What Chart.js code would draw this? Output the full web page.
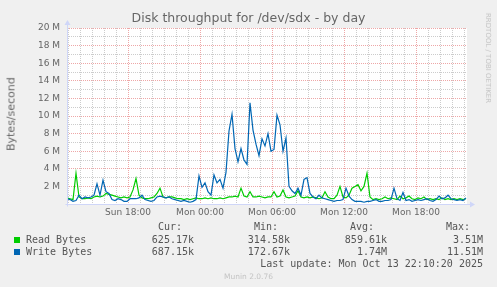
<!DOCTYPE html>
<html>
<head>
<meta charset="utf-8">
<script src="https://cdn.jsdelivr.net/npm/chart.js@4/dist/chart.umd.min.js"></script>
<style>
  html, body { margin: 0; padding: 0; background: #f0f0f0; }
  #wrap { position: relative; width: 497px; height: 287px; overflow: hidden; font-family: "DejaVu Sans", sans-serif; color: #666; }
  #chart { position: absolute; left: 0; top: 0; }
  .t { position: absolute; white-space: pre; }
  .mono { font-family: "DejaVu Sans Mono", monospace; font-size: 10px; line-height: 12px; color: #555; }
  .r { text-align: right; }
  .sq { position: absolute; width: 6px; height: 6px; }
</style>
</head>
<body>
<div id="wrap">
  <canvas id="chart" width="497" height="287"></canvas>

  <div class="t" style="left:0; width:497px; top:11px; text-align:center; font-size:12.5px; line-height:14px; padding-right:0; text-indent:0;"><span style="position:relative; left:0;">Disk throughput for /dev/sdx - by day</span></div>
  <div class="t" style="left:11px; top:114px; font-size:11px; transform:translate(-50%,-50%) rotate(-90deg);">Bytes/second</div>
  <div class="t" style="left:488px; top:58px; font-size:7px; color:#c4c4c4; transform:translate(-50%,-50%) rotate(90deg);">RRDTOOL / TOBI OETIKER</div>

  <!-- legend -->
  <div class="t mono r" style="right:315px; top:221px;">Cur:</div>
  <div class="t mono r" style="right:219px; top:221px;">Min:</div>
  <div class="t mono r" style="right:123px; top:221px;">Avg:</div>
  <div class="t mono r" style="right:27px; top:221px;">Max:</div>

  <div class="sq" style="left:14px; top:237px; background:#00cc00;"></div>
  <div class="t mono" style="left:26px; top:234px;">Read Bytes</div>
  <div class="t mono r" style="right:303px; top:234px;">625.17k</div>
  <div class="t mono r" style="right:207px; top:234px;">314.58k</div>
  <div class="t mono r" style="right:110px; top:234px;">859.61k</div>
  <div class="t mono r" style="right:14px; top:234px;">3.51M</div>

  <div class="sq" style="left:14px; top:249px; background:#0066b3;"></div>
  <div class="t mono" style="left:26px; top:246px;">Write Bytes</div>
  <div class="t mono r" style="right:303px; top:246px;">687.15k</div>
  <div class="t mono r" style="right:207px; top:246px;">172.67k</div>
  <div class="t mono r" style="right:110px; top:246px;">1.74M</div>
  <div class="t mono r" style="right:14px; top:246px;">11.51M</div>

  <div class="t mono r" style="right:14px; top:258px;">Last update: Mon Oct 13 22:10:20 2025</div>
  <div class="t" style="left:0; width:497px; top:272px; text-align:center; font-size:7.5px; line-height:9px; color:#c4c4c4;">Munin 2.0.76</div>
</div>

<script>
// === データ (単位: MB/s, 15分ごと, Sun 12:55 から) ===
const START_HOUR = 12 + 55 / 60;          // Sun 12:55 (hours since Sun 00:00)
const END_HOUR = START_HOUR + 400 / 12;   // 33h20m window
const STEP_HOURS = 0.25;

const readBytes = [
    0.7, 0.6, 0.5, 3.5, 0.8, 0.6, 0.6, 0.7, 0.6, 0.8,
    0.9, 0.8, 0.9, 1.2, 1.1, 1.0, 0.9, 0.8, 0.7, 0.8,
    0.7, 0.8, 1.6, 2.9, 1.0, 0.7, 0.6, 0.6, 0.7, 0.8,
    1.2, 1.8, 0.8, 0.7, 0.8, 0.8, 0.7, 0.6, 0.6, 0.5,
    0.6, 0.5, 0.6, 0.7, 0.6, 0.6, 0.7, 0.6, 0.7, 0.6,
    0.6, 0.7, 0.6, 0.7, 0.8, 0.8, 0.9, 0.8, 1.8, 0.9,
    0.8, 1.4, 0.8, 0.8, 0.9, 0.8, 0.7, 0.8, 0.8, 1.4,
    0.8, 0.9, 1.6, 0.8, 0.7, 0.8, 0.9, 1.5, 0.8, 0.7,
    0.8, 0.7, 0.8, 0.7, 0.6, 0.7, 1.4, 0.8, 0.6, 0.6,
    1.0, 2.0, 0.8, 0.7, 1.0, 1.8, 2.0, 2.2, 1.5, 2.0,
    3.5, 0.8, 0.5, 0.6, 0.5, 0.6, 0.8, 0.6, 0.7, 0.6,
    0.5, 0.9, 0.6, 0.7, 0.9, 0.6, 0.5, 0.7, 0.6, 0.8,
    0.5, 0.6, 0.5, 0.6, 0.5, 0.7, 0.5, 0.6, 0.5, 0.6,
    0.5, 0.6, 0.5, 0.6
];

const writeBytes = [
    0.6, 0.5, 0.3, 0.4, 1.0, 0.6, 0.8, 0.7, 0.8, 1.0,
    2.3, 1.0, 2.7, 1.4, 1.2, 0.5, 0.4, 0.6, 0.5, 0.3,
    0.3, 0.6, 0.6, 0.6, 0.7, 1.0, 0.5, 0.4, 0.3, 0.4,
    0.8, 0.9, 0.8, 0.7, 0.8, 0.6, 0.5, 0.4, 0.3, 0.4,
    0.3, 0.2, 0.3, 0.5, 3.2, 1.9, 2.4, 1.4, 1.0, 3.3,
    2.4, 2.8, 1.8, 3.6, 8.3, 10.2, 6.3, 4.8, 6.3, 5.0,
    4.5, 11.5, 8.4, 6.8, 5.5, 7.4, 6.6, 8.0, 6.0, 6.2,
    10.1, 9.0, 6.0, 7.5, 2.0, 1.5, 1.2, 1.8, 1.0, 2.8,
    3.0, 1.2, 0.8, 0.6, 1.0, 0.7, 0.6, 0.5, 0.4, 0.3,
    0.4, 0.4, 0.5, 1.8, 0.9, 0.5, 0.3, 0.3, 0.3, 0.2,
    0.3, 0.3, 0.4, 0.5, 0.3, 0.3, 0.4, 0.4, 0.5, 1.8,
    0.6, 0.4, 1.3, 0.4, 0.5, 0.3, 0.4, 0.5, 0.4, 0.5,
    0.6, 0.4, 0.3, 0.5, 0.9, 0.6, 0.7, 1.0, 0.6, 0.5,
    0.4, 0.5, 0.4, 0.7
];

// 目盛りラベル
const xTickHours = [18, 24, 30, 36, 42];
const xTickLabels = ['Sun 18:00', 'Mon 00:00', 'Mon 06:00', 'Mon 12:00', 'Mon 18:00'];

// === 色 ===
const AXIS_COLOR = '#cfd6f8';
const MINOR_GRID = 'rgba(143, 143, 143, 0.45)';
const MAJOR_GRID = 'rgba(222, 79, 79, 0.5)';
const FONT_COLOR = '#666666';

const toPoints = (values) => values.map((v, i) => ({ x: START_HOUR + i * STEP_HOURS, y: v }));

// プロット領域を白で塗る
const canvasBg = {
    id: 'canvasBg',
    beforeDraw(chart) {
        const { ctx, chartArea: a } = chart;
        ctx.save();
        ctx.fillStyle = '#ffffff';
        ctx.fillRect(a.left, a.top, a.right - a.left, a.bottom - a.top);
        ctx.restore();
    }
};

// rrdtool 風の軸矢印
const axisArrows = {
    id: 'axisArrows',
    afterDraw(chart) {
        const { ctx, chartArea: a } = chart;
        const x0 = Math.round(a.left) + 0.5;
        const y0 = Math.round(a.bottom) + 0.5;
        ctx.save();
        ctx.strokeStyle = AXIS_COLOR;
        ctx.fillStyle = AXIS_COLOR;
        ctx.lineWidth = 1;
        ctx.beginPath();
        ctx.moveTo(x0, y0 + 2);
        ctx.lineTo(x0, a.top - 4);
        ctx.moveTo(x0 - 2, y0);
        ctx.lineTo(a.right + 4, y0);
        ctx.stroke();
        ctx.beginPath();
        ctx.moveTo(x0 - 3, a.top - 3);
        ctx.lineTo(x0 + 3, a.top - 3);
        ctx.lineTo(x0, a.top - 8);
        ctx.closePath();
        ctx.fill();
        ctx.beginPath();
        ctx.moveTo(a.right + 3, y0 - 3);
        ctx.lineTo(a.right + 3, y0 + 3);
        ctx.lineTo(a.right + 8, y0);
        ctx.closePath();
        ctx.fill();
        ctx.restore();
    }
};

const ctx = document.getElementById('chart').getContext('2d');
new Chart(ctx, {
    type: 'line',
    data: {
        datasets: [{
            label: 'Read Bytes',
            data: toPoints(readBytes),
            borderColor: '#00cc00',
            borderWidth: 1.2,
            pointRadius: 0,
            tension: 0,
            fill: false,
            order: 2
        }, {
            label: 'Write Bytes',
            data: toPoints(writeBytes),
            borderColor: '#0066b3',
            borderWidth: 1.2,
            pointRadius: 0,
            tension: 0,
            fill: false,
            order: 1
        }]
    },
    options: {
        responsive: false,
        animation: false,
        devicePixelRatio: 1,
        layout: { padding: { top: 28, right: 30, left: 0, bottom: 0 } },
        plugins: {
            legend: { display: false },
            tooltip: { enabled: false }
        },
        scales: {
            x: {
                type: 'linear',
                min: START_HOUR,
                max: END_HOUR,
                afterBuildTicks: (scale) => {
                    const ticks = [];
                    for (let h = Math.ceil(START_HOUR); h <= END_HOUR; h++) ticks.push({ value: h });
                    scale.ticks = ticks;
                },
                afterFit: (scale) => { scale.height = 83; },
                ticks: {
                    autoSkip: false,
                    maxRotation: 0,
                    padding: 3,
                    color: FONT_COLOR,
                    font: { family: 'DejaVu Sans', size: 9 },
                    callback: (value) => {
                        const idx = xTickHours.indexOf(value);
                        return idx >= 0 ? xTickLabels[idx] : '';
                    }
                },
                grid: {
                    drawTicks: false,
                    color: (c) => (c.tick && c.tick.value % 6 === 0 ? MAJOR_GRID : MINOR_GRID)
                },
                border: { display: false, dash: [1, 1] }
            },
            y: {
                min: 0,
                max: 20,
                afterFit: (scale) => { scale.width = 67; },
                ticks: {
                    stepSize: 1,
                    autoSkip: false,
                    padding: 7,
                    color: FONT_COLOR,
                    font: { family: 'DejaVu Sans', size: 9 },
                    callback: (value) => (value > 0 && value % 2 === 0 ? value + ' M' : '')
                },
                grid: {
                    drawTicks: false,
                    color: (c) => (c.tick && c.tick.value % 2 === 0 ? MAJOR_GRID : MINOR_GRID)
                },
                border: { display: false, dash: [1, 1] }
            }
        }
    },
    plugins: [canvasBg, axisArrows]
});
</script>
</body>
</html>
